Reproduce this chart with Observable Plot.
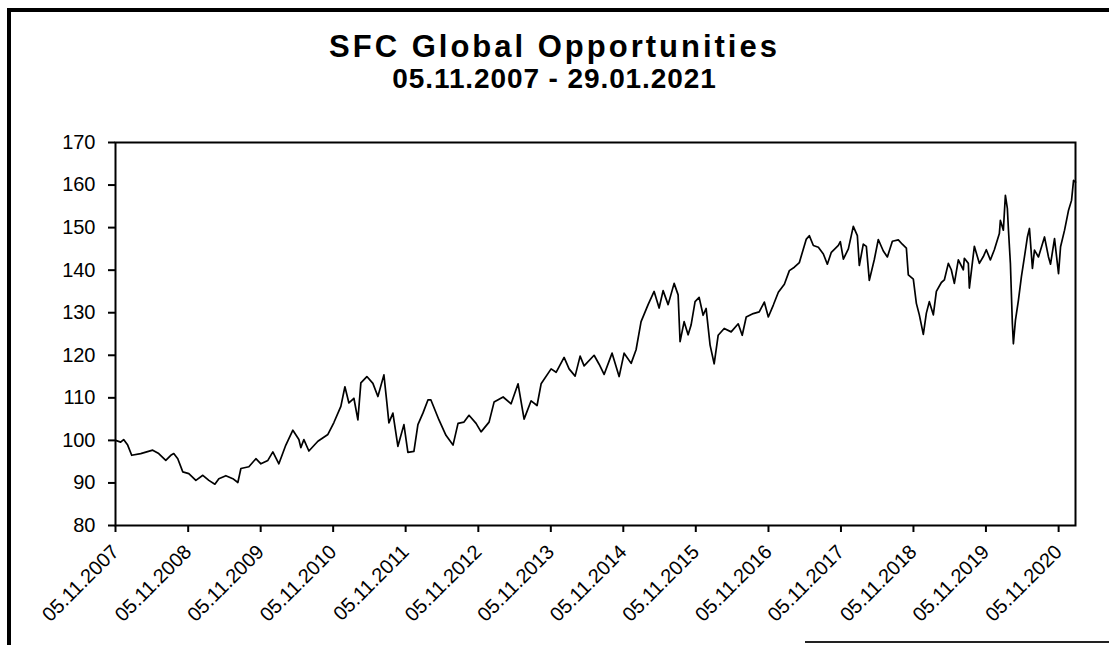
<!DOCTYPE html>
<html>
<head>
<meta charset="utf-8">
<script src="https://cdn.jsdelivr.net/npm/d3@7"></script>
<script src="https://cdn.jsdelivr.net/npm/@observablehq/plot@0.6"></script>
<style>
  body { margin: 0; background: #fff; }
  #wrap { position: relative; width: 1109px; height: 645px; overflow: hidden; background: #fff;
          font-family: "Liberation Sans", Arial, sans-serif; color: #000; }
  #border { position: absolute; left: 7px; top: 8px; width: 1200px; height: 700px;
            border-left: 4px solid #000; border-top: 4px solid #000; }
  #bottomline { position: absolute; left: 805px; top: 641px; width: 310px; height: 2px; background: #222; }
  #chart { position: absolute; left: 0; top: 0; }
  .ttl { position: absolute; left: 0; width: 1109px; text-align: center; font-weight: bold; white-space: nowrap; }
  #title { top: 31px; font-size: 31px; line-height: 31px; letter-spacing: 3px; }
  #subtitle { top: 65px; font-size: 28px; line-height: 28px; letter-spacing: 0.9px; }
</style>
</head>
<body>
<div id="wrap">
  <div id="border"></div>
  <div id="bottomline"></div>
  <div id="chart"></div>
  <div class="ttl" id="title">SFC Global Opportunities</div>
  <div class="ttl" id="subtitle">05.11.2007 - 29.01.2021</div>
</div>
<script>
// Dates as decimal years
const years = [
  2007.846, 2007.915, 2007.956, 2008.012, 2008.067, 2008.191, 2008.356, 2008.439, 2008.536, 2008.605,
  2008.646, 2008.701, 2008.770, 2008.853, 2008.950, 2009.046, 2009.129, 2009.212, 2009.267, 2009.364,
  2009.460, 2009.529, 2009.571, 2009.681, 2009.778, 2009.847, 2009.943, 2010.012, 2010.095, 2010.191,
  2010.288, 2010.371, 2010.398, 2010.440, 2010.509, 2010.633, 2010.771, 2010.854,
  2010.950, 2011.006, 2011.061, 2011.130, 2011.185, 2011.226, 2011.309, 2011.392, 2011.461, 2011.544,
  2011.585, 2011.613, 2011.668, 2011.737, 2011.820, 2011.875, 2011.958, 2012.013, 2012.082, 2012.151,
  2012.192, 2012.303, 2012.399, 2012.496, 2012.565, 2012.647, 2012.716, 2012.813, 2012.882, 2012.992,
  2013.061, 2013.186, 2013.296, 2013.392, 2013.475, 2013.572, 2013.654, 2013.710, 2013.848, 2013.917,
  2014.027, 2014.096, 2014.179, 2014.248,
  2014.303, 2014.441, 2014.510, 2014.579, 2014.689, 2014.786, 2014.855, 2014.952, 2015.020, 2015.089,
  2015.186, 2015.269, 2015.338, 2015.393, 2015.462, 2015.545, 2015.600, 2015.627, 2015.683, 2015.738,
  2015.779, 2015.834, 2015.890, 2015.945, 2015.986, 2016.041, 2016.097, 2016.152, 2016.235, 2016.331,
  2016.428, 2016.483, 2016.538, 2016.635, 2016.717, 2016.787, 2016.842, 2016.911, 2016.980, 2017.063,
  2017.132, 2017.201, 2017.270, 2017.325, 2017.366, 2017.407, 2017.463, 2017.532, 2017.601, 2017.656,
  2017.711, 2017.808, 2017.835, 2017.877, 2017.946, 2018.014, 2018.070, 2018.097, 2018.152, 2018.194,
  2018.235,
  2018.304, 2018.359, 2018.428, 2018.484, 2018.553, 2018.635, 2018.690, 2018.746, 2018.773, 2018.842,
  2018.884, 2018.925, 2018.980, 2019.022, 2019.063, 2019.118, 2019.160, 2019.229, 2019.270, 2019.325,
  2019.366, 2019.408, 2019.463, 2019.532, 2019.546, 2019.601, 2019.615, 2019.684, 2019.753, 2019.808,
  2019.849, 2019.905, 2019.960, 2020.029, 2020.043, 2020.084, 2020.112, 2020.139, 2020.153, 2020.181,
  2020.208, 2020.222, 2020.250, 2020.291, 2020.332, 2020.374, 2020.415, 2020.443, 2020.484, 2020.512,
  2020.567, 2020.622, 2020.650, 2020.705, 2020.733, 2020.788, 2020.843, 2020.871, 2020.926, 2020.981,
  2021.022, 2021.050, 2021.077
];
const values = [
  100.0, 99.6, 100.2, 98.9, 96.5, 96.9, 97.7, 96.9, 95.3, 96.5,
  96.9, 95.7, 92.6, 92.2, 90.6, 91.8, 90.6, 89.7, 91.0, 91.7,
  91.0, 90.1, 93.4, 93.8, 95.7, 94.5, 95.3, 97.3, 94.5, 98.9,
  102.4, 100.2, 98.3, 100.2, 97.5, 99.8, 101.4, 104.2,
  108.0, 112.6, 108.8, 109.9, 104.8, 113.5, 115.0, 113.4, 110.3, 115.4,
  108.8, 104.1, 106.4, 98.6, 103.7, 97.2, 97.4, 103.7, 106.4, 109.5,
  109.5, 104.8, 101.2, 98.9, 104.0, 104.3, 105.9, 104.0, 102.0, 104.3,
  109.0, 110.2, 108.6, 113.3, 105.0, 109.3, 108.2, 113.3, 116.8, 116.0,
  119.5, 116.8, 115.1, 119.8,
  117.5, 120.0, 117.9, 115.5, 120.5, 115.0, 120.5, 118.1, 121.3, 127.9,
  131.9, 135.0, 131.1, 135.2, 131.9, 136.9, 134.2, 123.2, 127.9, 124.8,
  127.1, 132.6, 133.6, 129.4, 131.0, 122.4, 118.0, 124.7, 126.3, 125.5,
  127.4, 124.7, 129.0, 129.8, 130.2, 132.5, 129.0, 131.8, 134.8, 136.7,
  139.9, 140.7, 141.8, 145.0, 147.3, 148.1, 145.8, 145.4, 143.8, 141.4,
  144.2, 145.8, 146.7, 142.6, 145.0, 150.3, 148.1, 141.1, 146.1, 145.6,
  137.6,
  142.5, 147.2, 144.5, 143.1, 146.8, 147.1, 146.1, 145.2, 138.9, 137.9,
  132.2, 129.5, 124.9, 129.9, 132.6, 129.5, 135.0, 137.1, 137.7, 141.6,
  140.1, 136.9, 142.4, 140.1, 142.8, 141.6, 135.8, 145.6, 141.6, 143.2,
  144.8, 142.4, 144.8, 148.6, 151.7, 149.4, 157.6, 154.5, 149.8, 141.5,
  127.4, 122.7, 128.2, 132.9, 138.4, 143.1, 147.8, 149.8, 140.4, 144.7,
  143.1, 146.2, 147.8, 143.1, 141.4, 147.4, 139.2, 145.5, 149.4, 154.1,
  156.4, 161.1, 160.7
];
const xTickLabels = ["05.11.2007","05.11.2008","05.11.2009","05.11.2010","05.11.2011","05.11.2012","05.11.2013",
                     "05.11.2014","05.11.2015","05.11.2016","05.11.2017","05.11.2018","05.11.2019","05.11.2020"];
const yTicks = [80, 90, 100, 110, 120, 130, 140, 150, 160, 170];
const xStartLabel = "05.11.2007";
const xEndLabel = "29.01.2021";

const parse = d3.utcParse("%d.%m.%Y");
const fmt = d3.utcFormat("%d.%m.%Y");
function decimalYearToDate(y) {
  const yr = Math.floor(y);
  const a = Date.UTC(yr, 0, 1), b = Date.UTC(yr + 1, 0, 1);
  return new Date(a + (y - yr) * (b - a));
}
const data = years.map((y, i) => ({ date: decimalYearToDate(y), value: values[i] }));
const xTicks = xTickLabels.map(parse);

const chart = Plot.plot({
  width: 1109,
  height: 645,
  marginLeft: 115,
  marginRight: 34,
  marginTop: 142,
  marginBottom: 120,
  style: { fontFamily: '"Liberation Sans", Arial, sans-serif', fontSize: "20px", color: "#000", background: "transparent", overflow: "visible" },
  x: { type: "utc", domain: [parse(xStartLabel), parse(xEndLabel)] },
  y: { domain: [80, 170] },
  marks: [
    Plot.axisY({ ticks: yTicks, tickSize: 7, tickPadding: 13, label: null, strokeWidth: 2, fontSize: 20 }),
    Plot.axisX({ ticks: xTicks, tickFormat: fmt, tickRotate: -45, tickSize: 7, tickPadding: 16, label: null, strokeWidth: 2, fontSize: 20 }),
    Plot.line(data, { x: "date", y: "value", stroke: "#000", strokeWidth: 1.7 }),
    Plot.frame({ stroke: "#000", strokeWidth: 2 })
  ]
});
document.getElementById("chart").appendChild(chart);
</script>
</body>
</html>
